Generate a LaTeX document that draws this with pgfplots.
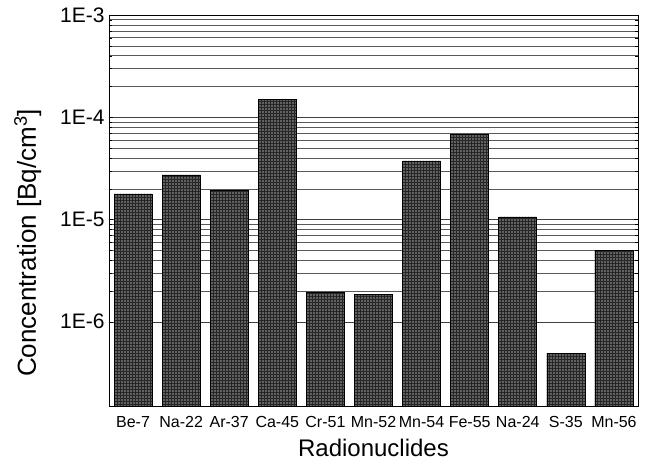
\documentclass[border=0pt]{standalone}
\usepackage{fontspec}
\setmainfont{Liberation Sans}
\usepackage{pgfplots}
\pgfplotsset{compat=1.18}
\usetikzlibrary{patterns}
\begin{document}
\begin{tikzpicture}
\path (-109pt,-61pt) rectangle (542pt,406pt);
\begin{axis}[
  at={(0,0)}, anchor=south west,
  scale only axis,
  width=529pt, height=391pt,
  ymode=log,
  log origin=infty,
  ymin=1.5e-7, ymax=1e-3,
  xmin=-0.5, xmax=10.5,
  xtick=data,
  xticklabels={Be-7,Na-22,Ar-37,Ca-45,Cr-51,Mn-52,Mn-54,Fe-55,Na-24,S-35,Mn-56},
  x tick label style={font=\fontsize{16}{18}\selectfont, inner xsep=0pt, yshift=-3pt},
  major x tick style={draw=none},
  ytick={1e-6,1e-5,1e-4,1e-3},
  yticklabels={1E-6,1E-5,1E-4,1E-3},
  y tick label style={font=\fontsize{21}{23}\selectfont, xshift=-1pt},
  ymajorgrids, yminorgrids,
  major grid style={black!75, line width=0.45pt},
  minor grid style={black!65, line width=0.4pt},
  axis line style={black, line width=0.9pt},
  tick style={black},
  xlabel={Radionuclides},
  ylabel={Concentration [Bq/cm\textsuperscript{3}]},
  xlabel style={font=\fontsize{24}{26}\selectfont, yshift=-4pt},
  ylabel style={font=\fontsize{26}{28}\selectfont, at={(ticklabel cs:0.417)}, yshift=12pt},
  ybar, bar width=38pt,
]
\addplot[draw=black, line width=0.6pt, fill=black!62,
  postaction={pattern=grid, pattern color=black!85}]
  coordinates {
  (0,1.78e-5) (1,2.73e-5) (2,1.95e-5) (3,1.5e-4) (4,1.95e-6) (5,1.85e-6)
  (6,3.74e-5) (7,6.87e-5) (8,1.06e-5) (9,4.9e-7) (10,5.0e-6)
  };
\end{axis}
\end{tikzpicture}
\end{document}
